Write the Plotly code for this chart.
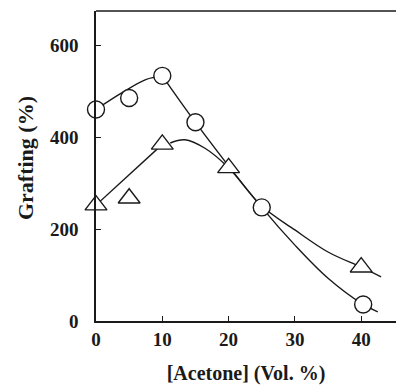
import plotly.graph_objects as go

# Measured data points
acetone_circ = [0, 5, 10, 15, 25, 40.3]
graft_circ = [460, 485, 533, 432, 247, 36]
acetone_tri = [0, 5, 10, 20, 40]
graft_tri = [252, 267, 384, 333, 117]

# Hand-drawn fit curves (control points)
fit_circ_a_x = [0, 4, 7.5, 10]
fit_circ_a_y = [460, 497, 525, 533]
fit_circ_b_x = [10, 15, 25, 30, 35, 40.3, 42.5]
fit_circ_b_y = [533, 432, 247, 165, 93, 36, 20]
fit_tri_a_x = [0, 10]
fit_tri_a_y = [252, 384]
fit_tri_b_x = [11.2, 13.4, 16.5, 20, 25, 30, 35, 40, 43]
fit_tri_b_y = [387, 394, 375, 333, 250, 198, 150, 117, 96]

x_ticks = [0, 10, 20, 30, 40]
y_ticks = [0, 200, 400, 600]

ink = "#1a1a1a"
fig = go.Figure()

for xs, ys in [(fit_circ_a_x, fit_circ_a_y), (fit_circ_b_x, fit_circ_b_y),
               (fit_tri_b_x, fit_tri_b_y)]:
    fig.add_trace(go.Scatter(x=xs, y=ys, mode="lines",
                             line=dict(color=ink, width=1.4, shape="spline", smoothing=1.0),
                             cliponaxis=False, showlegend=False, hoverinfo="skip"))
fig.add_trace(go.Scatter(x=fit_tri_a_x, y=fit_tri_a_y, mode="lines",
                         line=dict(color=ink, width=1.4),
                         cliponaxis=False, showlegend=False, hoverinfo="skip"))

fig.add_trace(go.Scatter(x=acetone_circ, y=graft_circ, mode="markers",
                         marker=dict(symbol="circle", size=17, color="white",
                                     line=dict(color=ink, width=1.4)),
                         cliponaxis=False, showlegend=False))
fig.add_trace(go.Scatter(x=acetone_tri, y=graft_tri, mode="markers",
                         marker=dict(symbol="triangle-up", size=19, color="white",
                                     line=dict(color=ink, width=1.4)),
                         cliponaxis=False, showlegend=False))

tickfont = dict(family="Liberation Serif", size=19, color=ink, weight="bold")
fig.update_layout(
    width=396, height=385,
    margin=dict(l=96, r=0, t=11, b=64),
    paper_bgcolor="white", plot_bgcolor="white",
    font=dict(family="Liberation Serif", size=19, color=ink),
    xaxis=dict(range=[0, 45.25], tickvals=x_ticks, ticks="inside", ticklen=5,
               tickwidth=1.2, tickcolor=ink, showline=True, linecolor=ink, linewidth=1.5,
               showgrid=False, zeroline=False, tickfont=tickfont,
               title=dict(text="<b>[Acetone] (Vol. %)</b>", standoff=18,
                          font=dict(family="Liberation Serif", size=20, color=ink))),
    yaxis=dict(range=[0, 674], tickvals=y_ticks, ticks="inside", ticklen=5,
               tickwidth=1.2, tickcolor=ink, showline=True, linecolor=ink, linewidth=1.5,
               showgrid=False, zeroline=False, tickfont=tickfont, ticklabelstandoff=12),
    shapes=[dict(type="line", xref="paper", yref="paper", x0=0, x1=1, y0=1, y1=1,
                 line=dict(color=ink, width=1.5))],
    annotations=[dict(text="<b>Grafting (%)</b>", textangle=-90, showarrow=False,
                      xref="paper", yref="paper", x=-0.233, y=0.526,
                      xanchor="center", yanchor="middle",
                      font=dict(family="Liberation Serif", size=22, color=ink))],
)

fig.write_html("out.html")
